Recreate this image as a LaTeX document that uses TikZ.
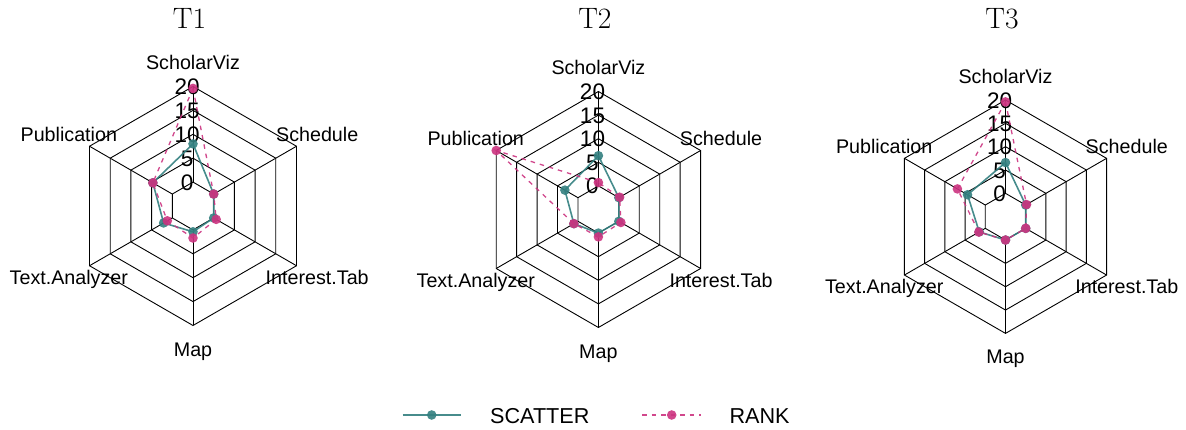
\documentclass[tikz,border=0pt]{standalone}
\usepackage{fontspec}
\newfontfamily\lblfont{Liberation Sans}
\definecolor{cTeal}{rgb}{0.2,0.5,0.5}
\definecolor{cPink}{rgb}{0.8,0.2,0.5}
\tikzset{
	gridline/.style   ={black, line width=0.9pt},
	scatterline/.style={draw=cTeal, draw opacity=0.9, line width=1.6pt, line join=round},
	rankline/.style   ={draw=cPink, draw opacity=0.9, line width=1.3pt, dash pattern=on 4.5pt off 5pt},
	scatterdot/.style ={fill=cTeal, fill opacity=0.9},
	rankdot/.style    ={fill=cPink, fill opacity=0.9},
	% text styles
	axislab/.style    ={font=\lblfont\fontsize{19.7}{22}\selectfont, inner sep=0pt, text height=14.1pt, text depth=0pt},
	numlab/.style     ={font=\lblfont\fontsize{22.5}{25}\selectfont, inner sep=0pt, text height=16.1pt, text depth=0pt},
	paneltitle/.style ={font=\fontsize{29.5}{32}\selectfont, inner sep=0pt},
	legtext/.style    ={font=\lblfont\fontsize{21.6}{24}\selectfont, inner sep=0pt},
}
\begin{document}
\begin{tikzpicture}[x=1pt, y=1pt]
	\useasboundingbox (0,0) rectangle (1186,430);
	% one radar panel per task: centre, radius, title, SCATTER values, RANK values
	\foreach \cx/\cy/\rr/\ttl/\sc/\rk in {
		193/224/119.5/T1/{8,4.7,2.1,0.4,0,0}/{19.6,4.7,1.2,1.7,0.6,0},
		598.4/220.5/118/T2/{6.4,3.2,1,0,0,0}/{0.7,20,1,0.8,0.5,0.2},
		1005.5/213.3/116.7/T3/{6.6,4.4,1.5,0,0,0}/{19.6,6.9,1.6,0,0,0.2}}{
		\begin{scope}[shift={(\cx,\cy)}]
			% grid
			\foreach \k in {1,...,5}
				\draw[gridline] (90:{\rr*\k/5}) -- (150:{\rr*\k/5}) -- (210:{\rr*\k/5})
					-- (270:{\rr*\k/5}) -- (330:{\rr*\k/5}) -- (30:{\rr*\k/5}) -- cycle;
			\foreach \a in {90,150,210,270,330,30}
				\draw[gridline] (\a:{\rr/5}) -- (\a:\rr);
			\foreach \lv [count=\k] in {0,5,10,15,20}
				\node[numlab] (\ttl-num\k) at ({-0.05*\rr},{\rr*\k/5}) {\lv};
			\foreach \nm [count=\i] in {ScholarViz,Publication,Text.Analyzer,Map,Interest.Tab,Schedule}
				\node[axislab] (\ttl-lab\i) at ({90+60*(\i-1)}:{1.2*\rr}) {\nm};
			\node[paneltitle, anchor=base] (\ttl) at (-3.5,{401.7-\cy}) {\ttl};
			% SCATTER
			\foreach \v [count=\i] in \sc
				\coordinate (s\i) at ({90+60*(\i-1)}:{\rr*(1+\v/5)/5});
			\draw[scatterline] (s1) -- (s2) -- (s3) -- (s4) -- (s5) -- (s6) -- cycle;
			\foreach \i in {1,...,6}
				\fill[scatterdot] (s\i) circle (4.8pt);
			% RANK
			\foreach \v [count=\i] in \rk
				\coordinate (r\i) at ({90+60*(\i-1)}:{\rr*(1+\v/5)/5});
			\draw[rankline] (r1) -- (r2) -- (r3) -- (r4) -- (r5) -- (r6) -- cycle;
			\foreach \i in {1,...,6}
				\fill[rankdot] (r\i) circle (4.8pt);
		\end{scope}
	}
	% legend
	\coordinate (sA) at (402.7,15);
	\coordinate (sB) at (461,15);
	\coordinate (sM) at (431.7,15);
	\draw[scatterline] (sA) -- (sB);
	\fill[scatterdot] (sM) circle (4.8pt);
	\node[legtext, anchor=base west] (legscatter) at (490,6) {SCATTER};
	\coordinate (rA) at (642,15);
	\coordinate (rB) at (700.7,15);
	\coordinate (rM) at (671.7,15);
	\draw[rankline] (rA) -- (rB);
	\fill[rankdot] (rM) circle (4.8pt);
	\node[legtext, anchor=base west] (legrank) at (729.3,6) {RANK};
\end{tikzpicture}
\end{document}
